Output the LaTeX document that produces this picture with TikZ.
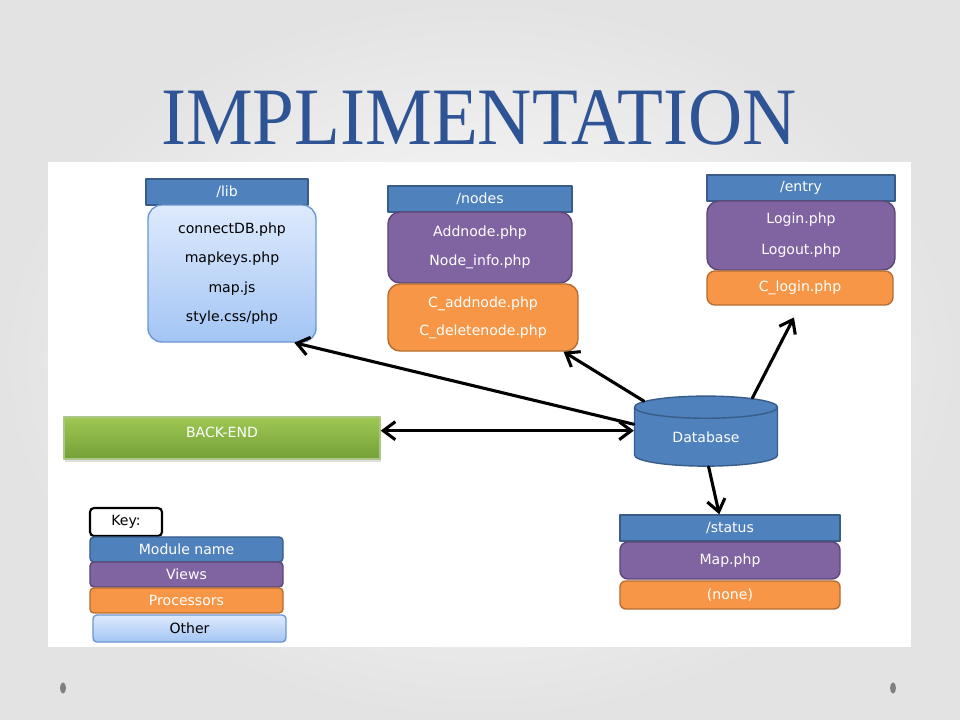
\documentclass[tikz,border=0pt]{standalone}
\usepackage{fontspec}
\setmainfont{DejaVu Sans}
\newfontfamily\titlefont{Liberation Serif}
\usetikzlibrary{shapes.geometric,arrows.meta,shadows}
\definecolor{modblue}{RGB}{79,129,189}
\definecolor{modline}{RGB}{56,93,138}
\definecolor{viewpurple}{RGB}{128,100,162}
\definecolor{viewline}{RGB}{92,71,118}
\definecolor{procorange}{RGB}{247,150,70}
\definecolor{procline}{RGB}{182,109,49}
\definecolor{otherlight}{RGB}{222,234,253}
\definecolor{otherdark}{RGB}{163,197,244}
\definecolor{otherline}{RGB}{110,150,210}
\definecolor{backtop}{RGB}{158,199,82}
\definecolor{backbot}{RGB}{116,160,56}
\definecolor{titleblue}{RGB}{46,84,150}

\begin{document}
\begin{tikzpicture}[x=0.025cm,y=-0.025cm,line width=1pt,line cap=round,line join=round,
  every node/.style={font=\fontsize{10}{12}\selectfont,align=center,inner sep=0pt},
  modname/.style={draw=modline,fill=modblue,text=white},
  views/.style={draw=viewline,fill=viewpurple,text=white,rounded corners=0.3cm},
  procs/.style={draw=procline,fill=procorange,text=white,rounded corners=0.3cm},
  other/.style={draw=otherline,top color=otherlight,bottom color=otherdark,text=black,rounded corners=0.35cm},
  keybox/.style={rounded corners=0.1cm,minimum width=4.825cm,minimum height=0.625cm},
  >={Straight Barb[length=0.3cm,width=0.45cm]}]
\useasboundingbox (0,0) rectangle (960,720);
\shade[inner color=white,outer color=gray!22] (0,0) rectangle (960,720);
\fill[white] (48,162) rectangle (911,647);
\fill[gray] (63,688) ellipse [x radius=0.075cm,y radius=0.14cm];
\fill[gray] (893,688) ellipse [x radius=0.075cm,y radius=0.14cm];

\node[font=\titlefont\fontsize{58}{60}\selectfont,text=titleblue,anchor=base,xscale=0.92] (title) at (479,145) {IMPLIMENTATION};

\node[modname,minimum width=4.05cm,minimum height=0.65cm] (libhead) at (227,192) {/lib};
\node[other,minimum width=4.2cm,minimum height=3.425cm] (libbody) at (232,273.5) {connectDB.php\\[9pt]mapkeys.php\\[9pt]map.js\\[9pt]style.css/php};

\node[modname,minimum width=4.6cm,minimum height=0.65cm] (nodeshead) at (480,199) {/nodes};
\node[views,minimum width=4.6cm,minimum height=1.775cm] (nodesview) at (480,247.5) {Addnode.php\\[9pt]Node\_info.php};
\node[procs,minimum width=4.75cm,minimum height=1.675cm] (nodesproc) at (483,317.5) {C\_addnode.php\\[8pt]C\_deletenode.php};

\node[modname,minimum width=4.7cm,minimum height=0.65cm] (entryhead) at (801,188) {/entry};
\node[views,minimum width=4.7cm,minimum height=1.725cm] (entryview) at (801,235.5) {Login.php\\[10pt]Logout.php};
\node[procs,rounded corners=0.2cm,minimum width=4.65cm,minimum height=0.85cm] (entryproc) at (800,288) {C\_login.php};

\node[cylinder,shape border rotate=90,aspect=0.33,draw=modline,fill=modblue,text=white,minimum width=3.575cm,minimum height=1.75cm] (db) at (706,437) {Database};

\node[draw=backbot!60!white,top color=backtop,bottom color=backbot,text=white,drop shadow={opacity=0.25,shadow xshift=0.03cm,shadow yshift=-0.08cm},text depth=0.3cm,minimum width=7.9cm,minimum height=1.05cm] (backend) at (222,438) {BACK-END};

\node[draw=black,line width=1.5pt,fill=white,rounded corners=0.1cm,minimum width=1.8cm,minimum height=0.7cm] (key) at (126,522) {Key:};
\node[modname,keybox] (keymod) at (186.5,549.5) {Module name};
\node[views,keybox] (keyview) at (186.5,574.5) {Views};
\node[procs,keybox] (keyproc) at (186.5,600.5) {Processors};
\node[other,keybox,minimum height=0.675cm] (keyother) at (189.5,628.5) {Other};

\node[modname,minimum width=5.5cm,minimum height=0.65cm] (stathead) at (730,528) {/status};
\node[views,rounded corners=0.2cm,minimum width=5.5cm,minimum height=0.925cm] (statview) at (730,560.5) {Map.php};
\node[procs,rounded corners=0.15cm,minimum width=5.5cm,minimum height=0.7cm] (statproc) at (730,595) {(none)};

\draw[line width=2.2pt,->] (db.170) -- (libbody.-48);
\draw[line width=2.2pt,->] (db.150) -- (nodesproc.-23.5);
\draw[line width=2.2pt,<->] (backend.east |- db.175) -- (db.175);
\draw[line width=2.2pt,->,shorten >=0.33cm] (db.40) -- (entryproc.south);
\draw[line width=2.2pt,->] (db.-85) -- (stathead.128);
\end{tikzpicture}
\end{document}
